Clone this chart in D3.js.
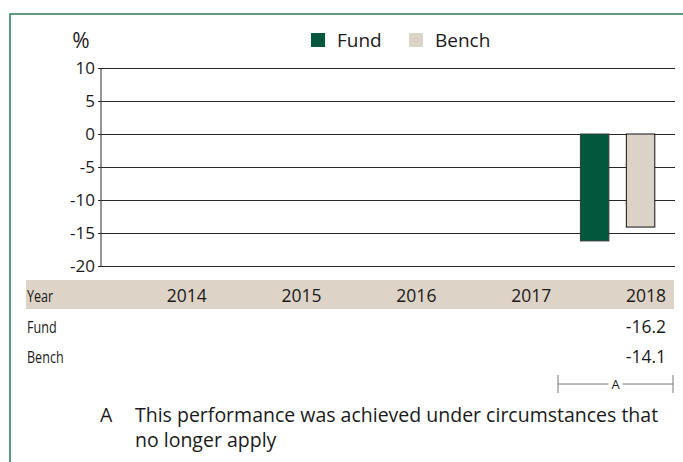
<!DOCTYPE html>
<html>
<head>
<meta charset="utf-8">
<script src="https://cdn.jsdelivr.net/npm/d3@7"></script>
<style>
  html, body { margin: 0; padding: 0; background: #fff; }
  svg { display: block; }
  text { font-family: "Open Sans", "Noto Sans", sans-serif; fill: #1a1a1a; }
</style>
</head>
<body>
<svg id="chart" width="683" height="462"></svg>
<script>
const years = ["2014", "2015", "2016", "2017", "2018"];
const seriesNames = ["Fund", "Bench"];
const fundValues = [null, null, null, null, -16.2];
const benchValues = [null, null, null, null, -14.1];
const yTicks = [10, 5, 0, -5, -10, -15, -20];
const rowLabels = ["Year", "Fund", "Bench"];
const colors = { Fund: "#03573c", Bench: "#dcd3c8" };
const footLetter = "A";
const footLines = ["This performance was achieved under circumstances that", "no longer apply"];

(function () {
const svg = d3.select("#chart");

// frame
svg.append("path")
  .attr("d", "M10,462 L10,14 L683,14")
  .attr("fill", "none").attr("stroke", "#2f7556").attr("stroke-width", 1.5);

const pLeft = 101, pRight = 675, pTop = 68, pBottom = 266;
const x0 = d3.scaleBand().domain(years).range([pLeft, pRight]).padding(0);
const x1 = d3.scaleBand().domain(seriesNames).range([0, x0.bandwidth()]).paddingInner(0.38).paddingOuter(0.44);
const y = d3.scaleLinear().domain([-20, 10]).range([pBottom, pTop]);

// y axis with gridlines
const yAxis = d3.axisLeft(y).tickValues(yTicks).tickSize(-(pRight - pLeft)).tickPadding(6).tickFormat(d => String(d));
const gy = svg.append("g").attr("transform", `translate(${pLeft},0)`).call(yAxis);
gy.select(".domain").remove();
gy.selectAll(".tick line").attr("stroke", "#2a2a2a").attr("stroke-width", 1).attr("x1", -3);
gy.selectAll(".tick text").attr("font-size", 17).attr("fill", "#1a1a1a")
  .style("font-family", '"Open Sans", sans-serif').attr("x", -6);
svg.append("line").attr("x1", pLeft).attr("x2", pLeft).attr("y1", pTop).attr("y2", pBottom)
  .attr("stroke", "#2a2a2a").attr("stroke-width", 1);

svg.append("text").attr("x", 81).attr("y", 48).attr("text-anchor", "middle").attr("font-size", 21).text("%");

// legend
const legendX = { Fund: 311, Bench: 409 };
seriesNames.forEach(s => {
  svg.append("rect").attr("x", legendX[s]).attr("y", 33).attr("width", 14).attr("height", 14).attr("fill", colors[s]);
  svg.append("text").attr("x", legendX[s] + 26).attr("y", 47).attr("font-size", 19).text(s);
});

// bars
const rows = years.map((yr, i) => ({ year: yr, Fund: fundValues[i], Bench: benchValues[i] }));
const groups = svg.append("g").selectAll("g").data(rows).join("g")
  .attr("transform", d => `translate(${x0(d.year)},0)`);
groups.selectAll("rect")
  .data(d => seriesNames.filter(s => d[s] !== null).map(s => ({ key: s, value: d[s] })))
  .join("rect")
  .attr("x", d => x1(d.key))
  .attr("width", x1.bandwidth())
  .attr("y", d => y(Math.max(0, d.value)))
  .attr("height", d => Math.abs(y(d.value) - y(0)))
  .attr("fill", d => colors[d.key])
  .attr("stroke", d => d.key === "Fund" ? "#3a3a3a" : "#111")
  .attr("stroke-width", 1);

// table
const rowY = [302, 333, 363];
svg.append("rect").attr("x", 26).attr("y", 280).attr("width", 648).attr("height", 29).attr("fill", "#ddd3c6");
rowLabels.forEach((t, i) => {
  svg.append("text").attr("transform", `translate(27,${rowY[i]}) scale(0.74,1)`)
    .attr("font-size", 17).text(t);
});

const labelX = d => x0(d) + x0.bandwidth() - 9;
svg.append("g").selectAll("text").data(years).join("text")
  .attr("x", labelX).attr("y", rowY[0]).attr("text-anchor", "end").attr("font-size", 17.5).text(d => d);
svg.append("g").selectAll("text").data(rows.filter(r => r.Fund !== null)).join("text")
  .attr("x", d => labelX(d.year)).attr("y", rowY[1]).attr("text-anchor", "end").attr("font-size", 17.5).text(d => d.Fund.toFixed(1));
svg.append("g").selectAll("text").data(rows.filter(r => r.Bench !== null)).join("text")
  .attr("x", d => labelX(d.year)).attr("y", rowY[2]).attr("text-anchor", "end").attr("font-size", 17.5).text(d => d.Bench.toFixed(1));

// bracket
const bx1 = 558, bx2 = 673, by = 384;
const mid = (bx1 + bx2) / 2;
const br = svg.append("g").attr("stroke", "#777").attr("stroke-width", 1);
br.append("line").attr("x1", bx1).attr("x2", bx1).attr("y1", 375).attr("y2", 393);
br.append("line").attr("x1", bx2).attr("x2", bx2).attr("y1", 375).attr("y2", 393);
br.append("line").attr("x1", bx1).attr("x2", mid - 7).attr("y1", by).attr("y2", by);
br.append("line").attr("x1", mid + 7).attr("x2", bx2).attr("y1", by).attr("y2", by);
svg.append("text").attr("x", mid).attr("y", 389).attr("text-anchor", "middle").attr("font-size", 13).text(footLetter);

// footnote
svg.append("text").attr("x", 100).attr("y", 422).attr("font-size", 19.5).text(footLetter);
footLines.forEach((t, i) => {
  svg.append("text").attr("x", 135).attr("y", 422 + i * 25).attr("font-size", 19.5).text(t);
});
})();
</script>
</body>
</html>
